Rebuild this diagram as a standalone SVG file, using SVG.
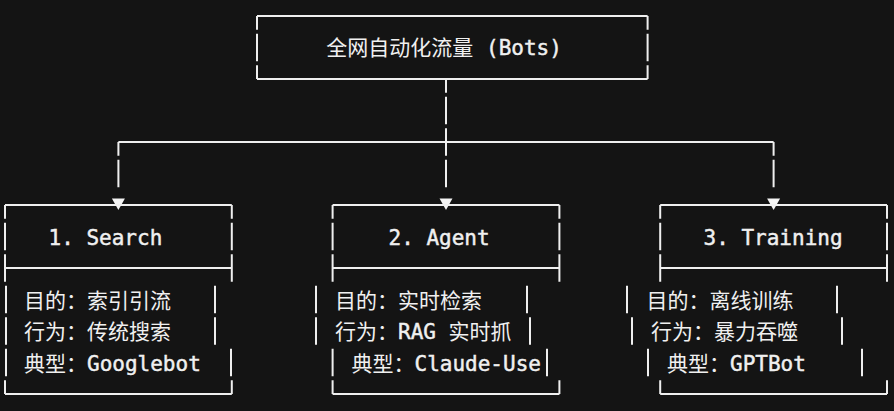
<svg xmlns="http://www.w3.org/2000/svg" width="894" height="411" viewBox="0 0 894 411">
<style>
.ln{stroke:#efefef;stroke-width:2;fill:none}
.t{fill:#f0f0f0;font-size:21px}
.m{font-family:"DejaVu Sans Mono","Liberation Mono",monospace;stroke:#f0f0f0;stroke-width:0.45px}
.c{font-family:"Noto Sans CJK SC","Noto Sans CJK JP",sans-serif}
.arr{fill:#f4f4f4}
</style>
<defs>
<path id="tri" d="M-6.5,198.5 H6.5 L0,210 Z"/>
</defs>
<rect width="894" height="411" fill="#141414"/>

<g id="root">
<path class="ln" d="M257,16 H647.6 M257,79 H647.6 M257,16 V29.75 M257,33.75 V61.25 M257,65.25 V79 M647.6,16 V29.75 M647.6,33.75 V61.25 M647.6,65.25 V79"/>
<text class="t" y="55"><tspan class="c" x="326.3">全网自动化流量</tspan><tspan class="m" x="486">(Bots)</tspan></text>
</g>

<g id="connectors">
<path class="ln" d="M446,79 V92.75 M446,96.75 V124.25 M446,128.25 V155.75 M446,159.75 V187.25 M118.4,142 H773.6 M118.4,142 V155.75 M118.4,159.75 V187.25 M773.6,142 V155.75 M773.6,159.75 V187.25"/>
<use href="#tri" x="118.4" class="arr"/>
<use href="#tri" x="446" class="arr"/>
<use href="#tri" x="773.6" class="arr"/>
</g>

<g id="search">
<path class="ln" d="M5,205 H231.8 M5,268 H231.8 M5,394 H231.8 M5,205 V218.75 M5,222.75 V250.25 M5,254.25 V281.75 M6,285.75 V313.25 M6,317.25 V344.75 M6,348.75 V376.25 M5,380.25 V394 M231.8,205 V218.75 M231.8,222.75 V250.25 M231.8,254.25 V281.75 M215,285.75 V313.25 M215,317.25 V344.75 M231,348.75 V376.25 M231.8,380.25 V394"/>
<text class="t m" x="48.5" y="244.5">1. Search</text>
<text class="t" y="307.5"><tspan class="c" x="24">目的：索引引流</tspan></text>
<text class="t" y="339"><tspan class="c" x="24">行为：传统搜索</tspan></text>
<text class="t" y="370.5"><tspan class="c" x="24">典型：</tspan><tspan class="m" x="87">Googlebot</tspan></text>
</g>

<g id="agent">
<path class="ln" d="M332.6,205 H559.4 M332.6,268 H559.4 M332.6,394 H559.4 M332.6,205 V218.75 M332.6,222.75 V250.25 M332.6,254.25 V281.75 M316,285.75 V313.25 M316,317.25 V344.75 M332.6,348.75 V376.25 M332.6,380.25 V394 M559.4,205 V218.75 M559.4,222.75 V250.25 M559.4,254.25 V281.75 M527,285.75 V313.25 M530,317.25 V344.75 M547,348.75 V376.25 M559.4,380.25 V394"/>
<text class="t m" x="388.5" y="244.5">2. Agent</text>
<text class="t" y="307.5"><tspan class="c" x="335">目的：实时检索</tspan></text>
<text class="t" y="339"><tspan class="c" x="335">行为：</tspan><tspan class="m" x="398">RAG</tspan><tspan class="c" x="448.4">实时抓</tspan></text>
<text class="t" y="370.5"><tspan class="c" x="351.5">典型：</tspan><tspan class="m" x="414.5">Claude-Use</tspan></text>
</g>

<g id="training">
<path class="ln" d="M660.2,205 H887 M660.2,268 H887 M660.2,394 H887 M660.2,205 V218.75 M660.2,222.75 V250.25 M660.2,254.25 V281.75 M627,285.75 V313.25 M632,317.25 V344.75 M648,348.75 V376.25 M660.2,380.25 V394 M887,205 V218.75 M887,222.75 V250.25 M887,254.25 V281.75 M837,285.75 V313.25 M842,317.25 V344.75 M862,348.75 V376.25 M887,380.25 V394"/>
<text class="t m" x="703.5" y="244.5">3. Training</text>
<text class="t" y="307.5"><tspan class="c" x="646.5">目的：离线训练</tspan></text>
<text class="t" y="339"><tspan class="c" x="651">行为：暴力吞噬</tspan></text>
<text class="t" y="370.5"><tspan class="c" x="667">典型：</tspan><tspan class="m" x="730">GPTBot</tspan></text>
</g>
</svg>
